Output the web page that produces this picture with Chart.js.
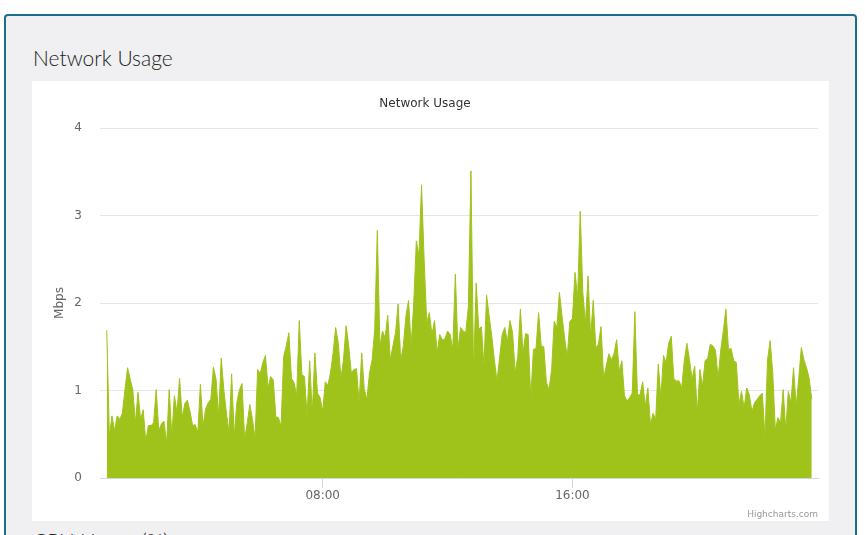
<!DOCTYPE html>
<html>
<head>
<meta charset="utf-8">
<title>Network Usage</title>
<script src="https://cdn.jsdelivr.net/npm/chart.js@4.4.1/dist/chart.umd.min.js"></script>
<style>
  html, body { margin: 0; padding: 0; background: #ffffff; }
  body { width: 865px; height: 535px; position: relative; overflow: hidden; font-family: Lato, "Open Sans", sans-serif; }
  .panel {
    position: absolute; left: 4px; top: 14px; width: 853px; height: 600px;
    box-sizing: border-box; background: #f0f0f2;
    border: 2px solid #1b6d8d; border-radius: 4px;
  }
  .panel-title {
    position: absolute; left: 33px; margin: 0;
    font-size: 21px; line-height: 24px; font-weight: 300; color: #222222;
  }
  .chart-box {
    position: absolute; left: 32px; top: 81px; width: 797px; height: 440px;
    background: #ffffff;
  }
  .chart-box canvas { position: absolute; left: 0; top: 0; }
  .credits {
    position: absolute; right: 11px; top: 428px;
    font-family: "DejaVu Sans", sans-serif; font-size: 9px; color: #999999;
  }
</style>
</head>
<body>
<div class="panel"></div>
<h3 class="panel-title" style="top: 46px;">Network Usage</h3>
<div class="chart-box">
  <canvas id="networkChart" width="797" height="440"></canvas>
  <span class="credits">Highcharts.com</span>
</div>
<h3 class="panel-title" style="top: 529px;">CPU Usage (%)</h3>

<script>
'use strict';

// Samples every 5 minutes, first one at 01:05 (minutes after midnight)
const startMinute = 65;
const intervalMinutes = 5;

// Network usage in Mbps
const usageMbps = [
  1.69, 0.48, 0.71, 0.54, 0.71, 0.67, 0.74, 1.01, 1.26, 1.13, 1.01, 0.63, 0.98, 0.67, 0.78,
  0.42, 0.60, 0.60, 0.63, 1.01, 0.54, 0.62, 0.65, 0.39, 1.01, 0.48, 0.94, 0.75, 1.14, 0.69,
  0.85, 0.89, 0.76, 0.60, 0.61, 0.52, 1.07, 0.59, 0.79, 0.86, 0.90, 1.27, 1.13, 0.71, 1.37,
  1.01, 0.74, 0.52, 1.19, 0.48, 0.86, 1.01, 1.08, 0.44, 0.63, 0.84, 0.67, 0.45, 1.24, 1.19,
  1.32, 1.40, 1.03, 1.16, 1.12, 0.70, 0.69, 0.59, 1.39, 1.51, 1.66, 1.14, 1.09, 0.94, 1.80,
  1.18, 1.16, 0.71, 1.34, 0.74, 1.43, 0.97, 0.92, 0.76, 1.10, 1.06, 1.20, 1.43, 1.72, 1.54,
  1.14, 1.35, 1.74, 1.51, 1.20, 1.24, 1.25, 0.86, 1.43, 1.01, 0.90, 1.20, 1.35, 1.70, 2.83,
  1.51, 1.68, 1.60, 1.86, 1.35, 1.51, 1.66, 1.99, 1.34, 1.51, 1.85, 2.03, 1.51, 2.00, 2.71,
  2.54, 3.35, 2.50, 1.77, 1.89, 1.64, 1.80, 1.43, 1.64, 1.58, 1.59, 1.68, 1.64, 1.47, 2.33,
  1.47, 1.72,
  1.68, 1.66, 1.96, 3.51, 1.20, 2.23, 1.70, 1.73, 1.28, 2.09, 1.85, 1.62, 1.35, 1.11, 1.37,
  1.64, 1.72, 1.56, 1.80, 1.66, 1.20, 1.39, 1.93, 1.43, 1.65, 1.64, 0.90, 1.47, 1.48, 1.89,
  1.51, 1.50, 1.09, 1.01, 1.24, 1.79, 1.72, 2.12, 1.85, 1.60, 1.38, 1.79, 1.82, 2.35, 2.06,
  3.05,
  2.12, 1.77, 2.31, 1.62, 2.03, 1.49, 1.53, 1.73, 1.14, 1.28, 1.42, 1.35, 1.42, 1.58, 1.22,
  1.34, 0.94, 0.88, 0.92, 0.97, 1.90, 0.95, 0.95, 1.10, 0.82, 1.03, 0.61, 0.74, 0.67, 1.30,
  0.92, 1.40, 1.32, 1.54, 1.62, 1.13, 1.11, 1.11, 1.03, 1.34, 1.54, 1.35, 1.13, 1.28, 0.74,
  1.24,
  1.05, 1.34, 1.37, 1.53, 1.51, 1.46, 1.14, 1.46, 1.68, 1.93, 1.47, 1.48, 1.34, 1.32, 0.84,
  0.99, 0.80, 1.03, 0.95, 0.76, 0.86, 0.90, 0.94, 0.97, 0.46, 1.35, 1.57, 1.20, 0.55, 0.69,
  0.63, 1.01, 0.55, 0.99, 0.86, 1.26, 0.82, 1.14, 1.49, 1.35, 1.26, 1.14, 0.90
];

// Axis range and labelled ticks (minutes after midnight)
const xAxisMin = 52;
const xAxisMax = 1432;
const xTickMinutes = [480, 960];
const yTickValues = [0, 1, 2, 3, 4];

const FONT = '"DejaVu Sans", Verdana, sans-serif';
const AREA_COLOR = '#a0c31c';

/**
 * Format minutes after midnight as HH:MM.
 * @param {number} minutes
 * @returns {string}
 */
function formatTime(minutes) {
  const h = Math.floor(minutes / 60);
  const m = Math.round(minutes % 60);
  return String(h).padStart(2, '0') + ':' + String(m).padStart(2, '0');
}

const points = usageMbps.map((v, i) => ({ x: startMinute + i * intervalMinutes, y: v }));

const ctx = document.getElementById('networkChart').getContext('2d');

new Chart(ctx, {
  type: 'line',
  data: {
    datasets: [{
      label: 'Network Usage',
      data: points,
      borderColor: AREA_COLOR,
      backgroundColor: AREA_COLOR,
      borderWidth: 1,
      fill: 'origin',
      tension: 0,
      pointRadius: 0,
      pointHoverRadius: 0
    }]
  },
  options: {
    responsive: false,
    animation: false,
    events: [],
    layout: { padding: { left: 0, right: 11, top: 0, bottom: 0 } },
    plugins: {
      legend: { display: false },
      tooltip: { enabled: false },
      title: {
        display: true,
        text: 'Network Usage',
        color: '#333333',
        font: { family: FONT, size: 12, weight: 'normal' },
        padding: { top: 15.8, bottom: 16.8 }
      }
    },
    scales: {
      x: {
        type: 'linear',
        min: xAxisMin,
        max: xAxisMax,
        afterBuildTicks: axis => { axis.ticks = xTickMinutes.map(v => ({ value: v })); },
        afterFit: scale => { scale.height = 43; },
        ticks: {
          autoSkip: false,
          maxRotation: 0,
          padding: 1,
          color: '#666666',
          font: { family: FONT, size: 12 },
          callback: value => formatTime(value)
        },
        grid: { drawOnChartArea: false, drawTicks: true, tickLength: 10, color: '#ccd6eb' },
        border: { display: true, color: '#ccd6eb', width: 1 }
      },
      y: {
        min: 0,
        max: 4,
        afterBuildTicks: axis => { axis.ticks = yTickValues.map(v => ({ value: v })); },
        afterFit: scale => { scale.width = 68; },
        ticks: {
          padding: 18,
          color: '#666666',
          font: { family: FONT, size: 12 }
        },
        grid: {
          drawTicks: false,
          color: c => (c.tick && c.tick.value === 0 ? 'rgba(0,0,0,0)' : '#e6e6e6')
        },
        border: { display: false },
        title: {
          display: true,
          text: 'Mbps',
          color: '#666666',
          font: { family: FONT, size: 12 },
          padding: { top: 21, bottom: 0 }
        }
      }
    }
  }
});
</script>
</body>
</html>
